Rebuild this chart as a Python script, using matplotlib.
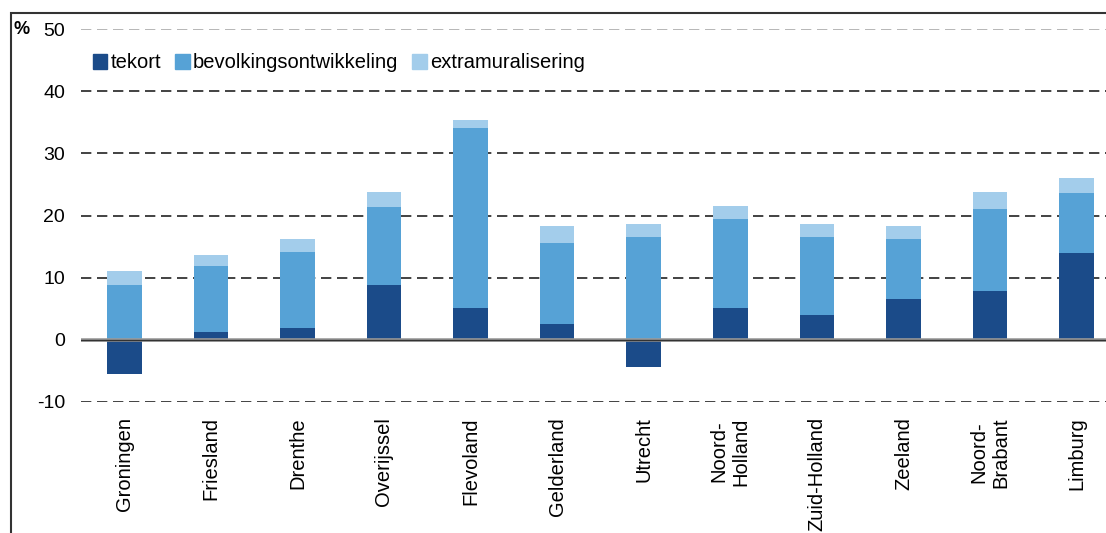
import matplotlib
matplotlib.use('Agg')
import matplotlib.pyplot as plt
import numpy as np
from matplotlib.patches import Patch, Rectangle

plt.rcParams['font.family'] = ['Liberation Sans', 'DejaVu Sans']
plt.rcParams['axes.unicode_minus'] = False

provinces = ['Groningen', 'Friesland', 'Drenthe', 'Overijssel', 'Flevoland', 'Gelderland',
             'Utrecht', 'Noord-\nHolland', 'Zuid-Holland', 'Zeeland', 'Noord-\nBrabant', 'Limburg']
tekort = [-5.5, 1.3, 1.9, 8.9, 5.2, 2.6, -4.4, 5.2, 4.0, 6.6, 7.8, 13.9]
bevolking = [8.9, 10.5, 12.2, 12.4, 28.9, 12.9, 16.5, 14.2, 12.5, 9.6, 13.2, 9.7]
extramuraal = [2.1, 1.8, 2.1, 2.4, 1.3, 2.8, 2.1, 2.1, 2.1, 2.1, 2.7, 2.4]
yticks = [-10, 0, 10, 20, 30, 40, 50]

c_tekort = '#1b4b89'
c_bev = '#56a2d6'
c_extra = '#a3cdeb'

W, H = 1106, 533
fig = plt.figure(figsize=(W / 100, H / 100), dpi=100)
ax = fig.add_axes([81 / W, (H - 402) / H, (W - 81) / W, (402 - 29) / H])

x = np.arange(len(provinces))
tek = np.array(tekort)
bev = np.array(bevolking)
ext = np.array(extramuraal)
base_bev = np.maximum(tek, 0)

ax.bar(x, tek, width=0.4, color=c_tekort, zorder=2)
ax.bar(x, bev, width=0.4, bottom=base_bev, color=c_bev, zorder=2)
ax.bar(x, ext, width=0.4, bottom=base_bev + bev, color=c_extra, zorder=2)

# gridlines
for v in yticks:
    if v == 0:
        continue
    col = '#aaaaaa' if v == 50 else '#222222'
    ax.axhline(v, color=col, lw=1.2, linestyle=(0, (6.2, 3.4)), zorder=1)
ax.axhline(0, color='#9a9a9a', lw=2.6, zorder=3)
ax.axhline(0, color='#333333', lw=1.0, zorder=4)

ax.set_xlim(-0.5, 11.34)
ax.set_ylim(-10, 50)
ax.set_yticks(yticks)
ax.set_xticks(x)
ax.set_xticklabels(provinces, rotation=90, va='top', ha='center', multialignment='center')
ax.tick_params(axis='x', length=0, pad=11, labelsize=14.5)
ax.tick_params(axis='y', length=0, pad=11.5, labelsize=14)
for s in ax.spines.values():
    s.set_visible(False)

handles = [Patch(color=c_tekort), Patch(color=c_bev), Patch(color=c_extra)]
ax.legend(handles, ['tekort', 'bevolkingsontwikkeling', 'extramuralisering'], ncol=3,
          loc='center left', bbox_to_anchor=(0.0117, 0.909), frameon=False, fontsize=14.5,
          handlelength=0.72, handleheight=0.72, handletextpad=0.15, columnspacing=0.7,
          borderpad=0, borderaxespad=0)

fig.text(13 / W, 1 - 30 / H, '%', fontsize=13, fontweight='bold', ha='left', va='center')

# outer frame (cut off at right and bottom)
fig.add_artist(Rectangle((11 / W, -0.5), 2, 0.5 + (H - 13) / H, transform=fig.transFigure,
                         fill=False, edgecolor='#333333', lw=1.5, clip_on=False))

fig.savefig('out.png', dpi=100)
